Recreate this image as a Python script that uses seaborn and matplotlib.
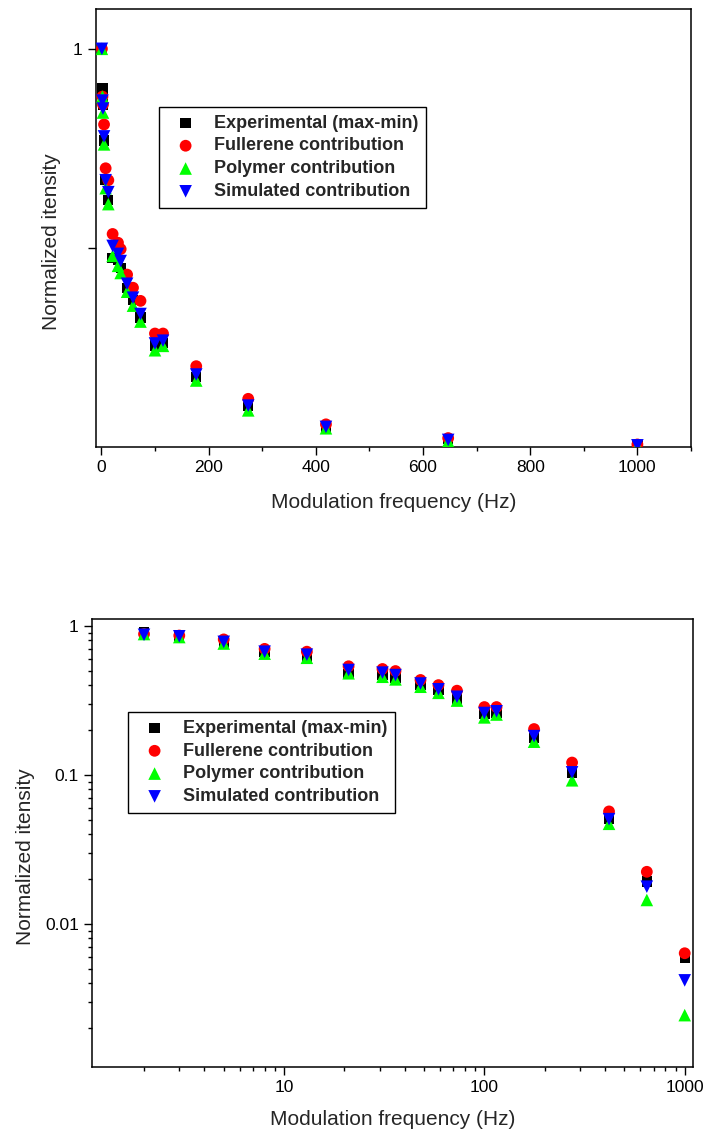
import numpy as np
import pandas as pd
import matplotlib
matplotlib.use("Agg")
import matplotlib.pyplot as plt
import matplotlib.ticker as mticker
import seaborn as sns

# ---- data ----
freq = [1, 2, 3, 5, 8, 13, 21, 31, 36, 48, 59, 73, 100, 115, 177, 274, 419, 647, 1000]
experimental = [1.0, 0.90, 0.86, 0.77, 0.67, 0.62, 0.475, 0.47, 0.45, 0.40, 0.37, 0.325,
                0.255, 0.262, 0.176, 0.103, 0.0505, 0.0193, 0.0059]
fullerene = [1.0, 0.88, 0.86, 0.81, 0.70, 0.67, 0.535, 0.513, 0.497, 0.433, 0.40, 0.367,
             0.285, 0.285, 0.203, 0.121, 0.0569, 0.0224, 0.00637]
polymer = [1.0, 0.88, 0.84, 0.76, 0.65, 0.61, 0.48, 0.455, 0.437, 0.39, 0.355, 0.315,
           0.243, 0.254, 0.167, 0.092, 0.047, 0.0145, 0.00245]
simulated = [1.0, 0.87, 0.85, 0.78, 0.67, 0.64, 0.505, 0.485, 0.467, 0.41, 0.375, 0.334,
             0.26, 0.267, 0.182, 0.104, 0.0505, 0.0178, 0.00419]

series_names = ["Experimental (max-min)", "Fullerene contribution",
                "Polymer contribution", "Simulated contribution"]
series_values = [experimental, fullerene, polymer, simulated]
series_colors = ["#000000", "#FF0000", "#00FF00", "#0000FF"]
series_markers = ["s", "o", "^", "v"]
series_sizes = [55, 72, 82, 82]

x_label = "Modulation frequency (Hz)"
y_label = "Normalized itensity"

sns.set_style("ticks")
plt.rcParams["font.family"] = ["Liberation Sans", "DejaVu Sans"]
plt.rcParams["axes.linewidth"] = 1.1
plt.rcParams["xtick.major.width"] = 1.0
plt.rcParams["ytick.major.width"] = 1.0
plt.rcParams["xtick.minor.width"] = 1.0
plt.rcParams["ytick.minor.width"] = 1.0

fig = plt.figure(figsize=(7.04, 11.37), dpi=100)
ax1 = fig.add_axes([96 / 704, 1 - 447 / 1137, (691 - 96) / 704, (447 - 9) / 1137])
ax2 = fig.add_axes([92 / 704, 1 - 1067 / 1137, (693 - 92) / 704, (1067 - 619) / 1137])


def draw(ax, logplot):
    for name, vals, col, mk, sz in zip(series_names, series_values, series_colors,
                                       series_markers, series_sizes):
        df = pd.DataFrame({"f": freq, "v": vals})
        if logplot:
            df = df[df["f"] > 1]
        sns.scatterplot(data=df, x="f", y="v", marker=mk, color=col, s=sz,
                        edgecolor="none", linewidth=0, label=name, ax=ax,
                        clip_on=True, zorder=3)
    for sp in ax.spines.values():
        sp.set_visible(True)
        sp.set_color("black")
    ax.tick_params(which="major", direction="out", length=6, labelsize=12.5, pad=3.5,
                   color="black", labelcolor="black")
    ax.tick_params(which="minor", direction="out", length=3.2, color="black")
    ax.set_xlabel(x_label, fontsize=15)
    ax.set_ylabel(y_label, fontsize=15)


def make_legend(ax, anchor):
    leg = ax.legend(loc="upper left", bbox_to_anchor=anchor, borderaxespad=0,
                    frameon=True, fancybox=False, framealpha=1, edgecolor="black",
                    prop={"weight": "bold", "size": 13}, borderpad=0.42,
                    handlelength=2.1, handletextpad=0.5, labelspacing=0.32)
    leg.get_frame().set_linewidth(1.0)
    return leg


# ---- top: linear ----
draw(ax1, False)
ax1.set_xlim(-10, 1100)
ax1.set_ylim(0, 1.1)
ax1.set_xticks([0, 200, 400, 600, 800, 1000])
ax1.xaxis.set_minor_locator(mticker.FixedLocator([100, 300, 500, 700, 900, 1100]))
ax1.set_yticks([0.5, 1.0])
ax1.set_yticklabels(["", "1"])
ax1.xaxis.set_label_coords(0.5, -0.105)
ax1.yaxis.set_label_coords(-0.059, 0.468)
make_legend(ax1, (0.106, 0.776))

# ---- bottom: log-log ----
draw(ax2, True)
ax2.set_xscale("log")
ax2.set_yscale("log")
ax2.set_xlim(1.1, 1100)
ax2.set_ylim(0.0011, 1.11)
ax2.xaxis.set_major_locator(mticker.FixedLocator([10, 100, 1000]))
ax2.xaxis.set_major_formatter(mticker.FixedFormatter(["10", "100", "1000"]))
ax2.xaxis.set_minor_locator(mticker.LogLocator(base=10, subs=np.arange(2, 10), numticks=20))
ax2.xaxis.set_minor_formatter(mticker.NullFormatter())
ax2.yaxis.set_major_locator(mticker.FixedLocator([0.01, 0.1, 1]))
ax2.yaxis.set_major_formatter(mticker.FixedFormatter(["0.01", "0.1", "1"]))
ax2.yaxis.set_minor_locator(mticker.LogLocator(base=10, subs=np.arange(2, 10), numticks=20))
ax2.yaxis.set_minor_formatter(mticker.NullFormatter())
ax2.xaxis.set_label_coords(0.5, -0.097)
ax2.yaxis.set_label_coords(-0.095, 0.469)
make_legend(ax2, (0.06, 0.792))

fig.savefig("out.png", dpi=100)
